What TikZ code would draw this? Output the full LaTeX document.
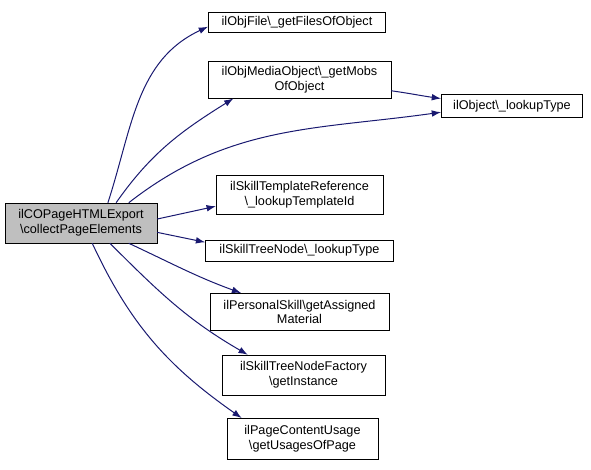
\documentclass[tikz,border=0pt]{standalone}
\usepackage{fontspec}
\setmainfont{Liberation Sans}
\usetikzlibrary{arrows.meta}
\tikzset{fn/.style={draw,fill=white,align=center,inner sep=1pt,font=\fontsize{9.5}{11}\selectfont},
         call/.style={-{Latex[length=7pt,width=5pt]},color=edge,line width=0.75pt}}
\definecolor{edge}{HTML}{191970}
\begin{document}
\begin{tikzpicture}[x=0.75pt,y=-0.75pt]
                      \useasboundingbox(0,0)rectangle(591,469);
                      \node[fn,fill=black!25,minimum width=114pt,minimum height=30pt](root)at(81,223){ilCOPageHTMLExport\\\textbackslash collectPageElements};
                      \node[fn,minimum width=133pt,minimum height=15pt](filesobj)at(297,22){ilObjFile\textbackslash\_getFilesOfObject};
                      \node[fn,minimum width=137pt,minimum height=28pt](mobsobj)at(299.5,79.5){ilObjMediaObject\textbackslash\_getMobs\\OfObject};
                      \node[fn,minimum width=106pt,minimum height=17pt](lookuptype)at(512,106){ilObject\textbackslash\_lookupType};
                      \node[fn,minimum width=125pt,minimum height=29pt](tplref)at(299.5,194.5){ilSkillTemplateReference\\\textbackslash\_lookupTemplateId};
                      \node[fn,minimum width=141pt,minimum height=16pt](treetype)at(299.5,250.5){ilSkillTreeNode\textbackslash\_lookupType};
                      \node[fn,minimum width=134pt,minimum height=28pt](assigned)at(299.5,312){ilPersonalSkill\textbackslash getAssigned\\Material};
                      \node[fn,minimum width=122pt,minimum height=30pt](factory)at(303.5,375){ilSkillTreeNodeFactory\\\textbackslash getInstance};
                      \node[fn,minimum width=113pt,minimum height=31pt](usages)at(302.5,439){ilPageContentUsage\\\textbackslash getUsagesOfPage};
                      \draw[call](root.37) to[out=72,in=205] (filesobj.183);
                      \draw[call](root.30) to[out=55,in=212] (mobsobj.196);
                      \draw[call](root.23) to[out=38,in=188] (lookuptype.185);
                      \draw[call](mobsobj.353) to[out=-8,in=172] (lookuptype.174);
                      \draw[call](root.3) -- (tplref.188);
                      \draw[call](root.353) -- (treetype.175);
                      \draw[call](root.337) to[out=-25,in=160] (assigned.162);
                      \draw[call](root.325) to[out=-45,in=150] (factory.160);
                      \draw[call](root.299) to[out=-65,in=145] (usages.161);
                  \end{tikzpicture}
\end{document}
